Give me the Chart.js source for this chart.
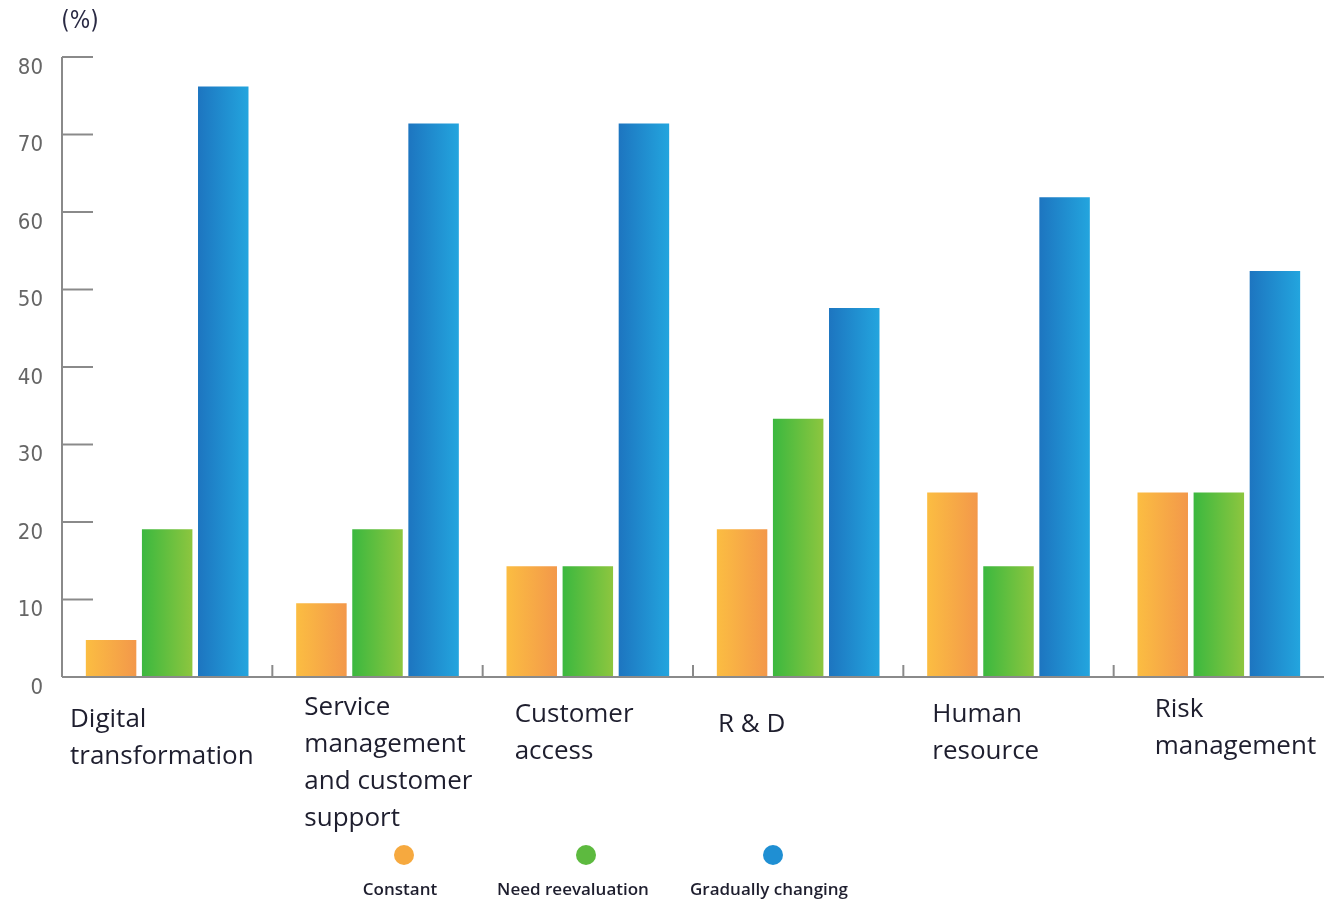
<!DOCTYPE html>
<html>
<head>
<meta charset="utf-8">
<script src="https://cdn.jsdelivr.net/npm/chart.js@4"></script>
<style>
  html, body { margin: 0; padding: 0; background: #fff; }
  #wrap { width: 1324px; height: 902px; position: relative; }
</style>
</head>
<body>
<div id="wrap"><canvas id="chart" width="1324" height="902"></canvas></div>
<script>
// data
const categories = [
  ["Digital", "transformation"],
  ["Service", "management", "and customer", "support"],
  ["Customer", "access"],
  ["R & D"],
  ["Human", "resource"],
  ["Risk", "management"]
];
const seriesNames = ["Constant", "Need reevaluation", "Gradually changing"];
const constant = [4.76, 9.52, 14.29, 19.05, 23.81, 23.81];
const needReevaluation = [19.05, 19.05, 14.29, 33.33, 14.29, 23.81];
const graduallyChanging = [76.19, 71.43, 71.43, 47.62, 61.9, 52.38];
const yTicks = [0, 10, 20, 30, 40, 50, 60, 70, 80];

// look
const gradients = [["#fbbd42", "#f3984a"], ["#3bb83f", "#8dc63f"], ["#1d75c0", "#23a5de"]];
const dotColors = ["#f6a93f", "#5dba3f", "#1f8fd3"];
const labelOffsetX = [8, 32, 32, 25, 29, 41];
const labelFirstLineY = [720, 708, 715, 725, 715, 710];
const legendDotX = [404, 586, 773];
const legendTextX = [400, 573, 769];

const gradientBars = {
  id: "gradientBars",
  beforeDatasetsDraw(chart) {
    const ctx = chart.ctx;
    chart.data.datasets.forEach((ds, di) => {
      chart.getDatasetMeta(di).data.forEach(bar => {
        const g = ctx.createLinearGradient(bar.x - bar.width / 2, 0, bar.x + bar.width / 2, 0);
        g.addColorStop(0, gradients[di][0]);
        g.addColorStop(1, gradients[di][1]);
        bar.options = Object.assign({}, bar.options, { backgroundColor: g });
      });
    });
  }
};

const decorations = {
  id: "decorations",
  afterDraw(chart) {
    const ctx = chart.ctx;
    const area = chart.chartArea;
    const x = chart.scales.x, y = chart.scales.y;
    ctx.save();
    ctx.strokeStyle = "#8a8a8a";
    ctx.lineWidth = 2;

    // y axis + inward ticks
    ctx.beginPath();
    ctx.moveTo(area.left, y.getPixelForValue(80));
    ctx.lineTo(area.left, area.bottom);
    ctx.stroke();
    ctx.font = "22px 'DejaVu Sans Condensed', 'Liberation Sans Narrow', 'DejaVu Sans'";
    if ("fontStretch" in ctx) ctx.fontStretch = "condensed";
    ctx.fillStyle = "#666";
    ctx.textAlign = "right";
    ctx.textBaseline = "middle";
    yTicks.forEach(v => {
      const py = y.getPixelForValue(v);
      if (v > 0) {
        ctx.beginPath();
        ctx.moveTo(area.left, py);
        ctx.lineTo(area.left + 31, py);
        ctx.stroke();
      }
      ctx.fillText(String(v), 43, py + 11);
    });
    if ("fontStretch" in ctx) ctx.fontStretch = "normal";

    // x axis + separators
    ctx.beginPath();
    ctx.moveTo(area.left, area.bottom);
    ctx.lineTo(area.right, area.bottom);
    ctx.stroke();
    const half = (x.getPixelForValue(1) - x.getPixelForValue(0)) / 2;
    for (let i = 1; i < categories.length; i++) {
      const px = x.getPixelForValue(i) - half;
      ctx.beginPath();
      ctx.moveTo(px, area.bottom);
      ctx.lineTo(px, area.bottom - 12);
      ctx.stroke();
    }

    // category labels
    ctx.font = "500 26px 'Open Sans', Lato, sans-serif";
    ctx.fillStyle = "#1e1e2e";
    ctx.textAlign = "left";
    categories.forEach((lines, i) => {
      const left = x.getPixelForValue(i) - half + labelOffsetX[i];
      lines.forEach((t, k) => ctx.fillText(t, left, labelFirstLineY[i] + k * 37));
    });

    // unit
    ctx.font = "24px 'DejaVu Sans Condensed', 'DejaVu Sans'";
    ctx.fillStyle = "#2a2a44";
    ctx.textAlign = "center";
    ctx.fillText("(%)", 80, 22);

    // legend
    seriesNames.forEach((name, i) => {
      ctx.beginPath();
      ctx.fillStyle = dotColors[i];
      ctx.arc(legendDotX[i], 855, 10, 0, Math.PI * 2);
      ctx.fill();
      ctx.font = "600 17px 'Open Sans', Lato, sans-serif";
      ctx.fillStyle = "#1e1e2e";
      ctx.fillText(name, legendTextX[i], 890);
    });
    ctx.restore();
  }
};

new Chart(document.getElementById("chart").getContext("2d"), {
  type: "bar",
  data: {
    labels: categories,
    datasets: [
      { label: seriesNames[0], data: constant, backgroundColor: gradients[0][1] },
      { label: seriesNames[1], data: needReevaluation, backgroundColor: gradients[1][1] },
      { label: seriesNames[2], data: graduallyChanging, backgroundColor: gradients[2][1] }
    ]
  },
  options: {
    responsive: false,
    animation: false,
    layout: { padding: { left: 62, right: 0, top: 57, bottom: 225 } },
    datasets: { bar: { categoryPercentage: 0.8, barPercentage: 0.9, borderWidth: 0 } },
    plugins: { legend: { display: false }, tooltip: { enabled: false } },
    scales: {
      x: { display: false, offset: true },
      y: { display: false, min: 0, max: 80 }
    }
  },
  plugins: [gradientBars, decorations]
});
</script>
</body>
</html>
